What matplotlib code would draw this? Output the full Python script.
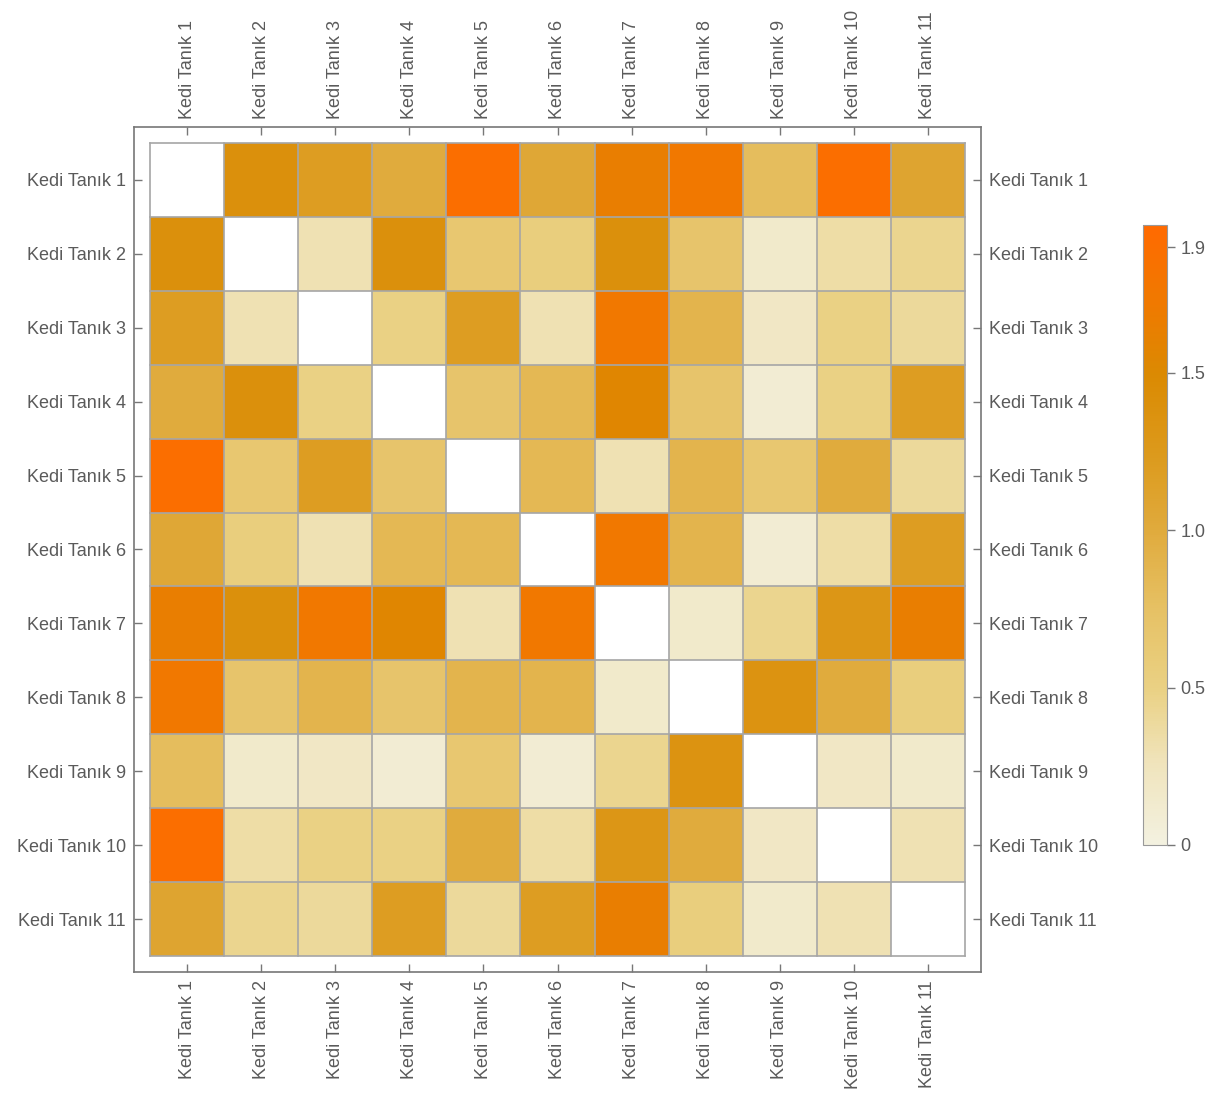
import numpy as np
import matplotlib
matplotlib.use("Agg")
import matplotlib.pyplot as plt
from matplotlib.colors import LinearSegmentedColormap

plt.rcParams['font.family'] = ['Liberation Sans', 'DejaVu Sans']

labels = ["Kedi Tanık %d" % i for i in range(1, 12)]

# pairwise values, diagonal left empty
nan = np.nan
row1 = [nan, 1.40, 1.20, 1.00, 1.90, 1.05, 1.65, 1.75, 0.80, 1.90, 1.10]
row2 = [1.40, nan, 0.30, 1.40, 0.65, 0.55, 1.40, 0.70, 0.15, 0.35, 0.45]
row3 = [1.20, 0.30, nan, 0.50, 1.20, 0.30, 1.75, 0.90, 0.20, 0.50, 0.40]
row4 = [1.00, 1.40, 0.50, nan, 0.70, 0.85, 1.55, 0.70, 0.10, 0.50, 1.20]
row5 = [1.90, 0.65, 1.20, 0.70, nan, 0.85, 0.30, 0.90, 0.65, 1.00, 0.40]
row6 = [1.05, 0.55, 0.30, 0.85, 0.85, nan, 1.75, 0.90, 0.10, 0.35, 1.20]
row7 = [1.65, 1.40, 1.75, 1.55, 0.30, 1.75, nan, 0.15, 0.45, 1.30, 1.65]
row8 = [1.75, 0.70, 0.90, 0.70, 0.90, 0.90, 0.15, nan, 1.35, 1.00, 0.55]
row9 = [0.80, 0.15, 0.20, 0.10, 0.65, 0.10, 0.45, 1.35, nan, 0.20, 0.15]
row10 = [1.90, 0.35, 0.50, 0.50, 1.00, 0.35, 1.30, 1.00, 0.20, nan, 0.30]
row11 = [1.10, 0.45, 0.40, 1.20, 0.40, 1.20, 1.65, 0.55, 0.15, 0.30, nan]

data = np.array([row1, row2, row3, row4, row5, row6, row7, row8, row9, row10, row11])
vmax = 1.97

cmap = LinearSegmentedColormap.from_list("tones", [
    (0.00, "#f3f1e0"),
    (0.13, "#f0e4bc"),
    (0.25, "#ead184"),
    (0.38, "#e6c164"),
    (0.51, "#e0aa3c"),
    (0.63, "#dc9a1c"),
    (0.76, "#db8a02"),
    (0.87, "#ef7a00"),
    (1.00, "#ff6a00"),
])
cmap.set_bad("white")

fig = plt.figure(figsize=(12.23, 11.05), dpi=100)
ax = fig.add_axes([0.1096, 0.1204, 0.6925, 0.7647])

n = len(labels)
m = ax.pcolormesh(np.arange(n + 1) - 0.5, np.arange(n + 1) - 0.5,
                  np.ma.masked_invalid(data), cmap=cmap, vmin=0, vmax=vmax)
for k in range(n + 1):
    ax.plot([k - 0.5, k - 0.5], [-0.5, n - 0.5], color="#a6a6a6", lw=1.2)
    ax.plot([-0.5, n - 0.5], [k - 0.5, k - 0.5], color="#a6a6a6", lw=1.2)

pad = 0.216
ax.set_xlim(-0.5 - pad, n - 0.5 + pad)
ax.set_ylim(n - 0.5 + pad, -0.5 - pad)

ax.set_xticks(range(n))
ax.set_yticks(range(n))
ax.set_xticklabels(labels, rotation=90)
ax.set_yticklabels(labels)
ax.tick_params(direction="in", length=6, width=1, color="#777777",
               labelcolor="#5a5a5a", labelsize=13, pad=6,
               top=True, bottom=True, left=True, right=True,
               labeltop=True, labelbottom=True, labelleft=True, labelright=True)
for s in ax.spines.values():
    s.set_color("#777777")
    s.set_linewidth(1.2)

cax = fig.add_axes([0.9346, 0.2353, 0.0196, 0.561])
cb = fig.colorbar(m, cax=cax, ticks=[0, 0.5, 1.0, 1.5, 1.9])
cb.ax.set_yticklabels(["0", "0.5", "1.0", "1.5", "1.9"])
cb.ax.tick_params(length=6, width=1, color="#777777", labelcolor="#5a5a5a", labelsize=13)
cb.outline.set_edgecolor("#999999")

fig.savefig("out.png", dpi=100)
